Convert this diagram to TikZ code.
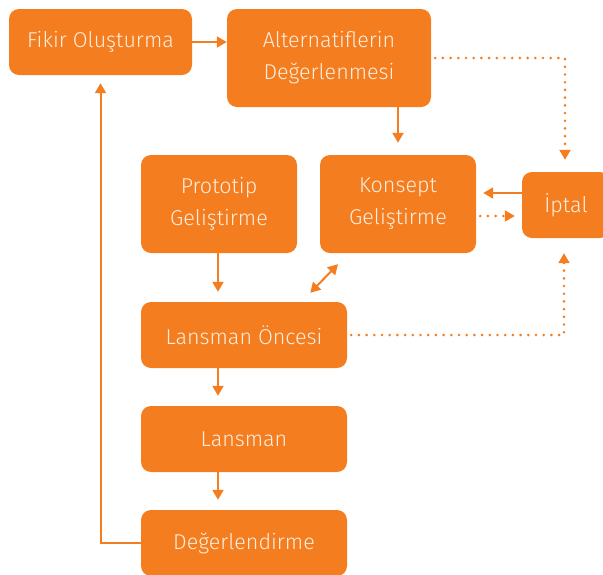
\documentclass[tikz,border=0pt]{standalone}
\usepackage{fontspec}
\setmainfont{Fira Sans Light}
\usepackage{xcolor}
\definecolor{BoxOrange}{HTML}{F47D20}
\definecolor{BoxText}{HTML}{FDEEDF}
\usepackage{tikz}
\usetikzlibrary{arrows.meta,calc}

\begin{document}
\begin{tikzpicture}[x=1pt,y=-1pt,
    every node/.style={fill=BoxOrange,text=BoxText,rounded corners=10pt,align=center,inner sep=0pt,
      font=\fontsize{21.5}{32}\selectfont},
    >={Triangle[length=10pt,width=11pt]},
    link/.style={draw=BoxOrange,line width=2pt,->},
    dots/.style={draw=BoxOrange,line width=2.9pt,line cap=round,dash pattern=on 0pt off 7.7pt}]
    \useasboundingbox (0,0) rectangle (603,574);
    \node[minimum width=183pt,minimum height=66pt] (fikir) at (100.5,42) {Fikir Oluşturma};
    \node[minimum width=204pt,minimum height=98pt] (alt) at (329,58) {Alternatiflerin\\Değerlenmesi};
    \node[minimum width=156pt,minimum height=98pt] (proto) at (219,204) {Prototip\\Geliştirme};
    \node[minimum width=156pt,minimum height=98pt] (konsept) at (398,204) {Konsept\\Geliştirme};
    \node[minimum width=88pt,minimum height=66pt] (iptal) at (566,205) {İptal};
    \node[minimum width=206pt,minimum height=66pt] (once) at (244,335) {Lansman Öncesi};
    \node[minimum width=206pt,minimum height=66pt] (lansman) at (244,439) {Lansman};
    \node[minimum width=206pt,minimum height=66pt] (deger) at (244,543) {Değerlendirme};
    % solid links
    \draw[link] (fikir.east) -- (alt.west |- fikir.east);
    \draw[link] (alt.south -| konsept.north) -- ([yshift=12pt]konsept.north);
    \draw[link] (iptal.west |- 0,193) -- ([xshift=7pt]konsept.east |- 0,193);
    \draw[link] (proto.south -| 218,0) -- ([yshift=10pt]once.north -| 218,0);
    \draw[link] (once.south -| 218,0) -- ([yshift=10pt]lansman.north -| 218,0);
    \draw[link] (lansman.south -| 218,0) -- ([yshift=10pt]deger.north -| 218,0);
    \draw[link,<->] ([shift={(-60pt,-11pt)}]konsept.south) -- ([shift={(-37pt,9pt)}]once.north east);
    \draw[link] (deger.west) -| ([yshift=-8pt]fikir.south);
    % dotted links to iptal
    \draw[dots] ([xshift=4pt]alt.east |- 0,58) -| (565,153);
    \draw[->,draw=BoxOrange,line width=2pt] (565,151) -- ([yshift=12pt]iptal.north -| 565,0);
    \draw[dots] ([xshift=4pt]konsept.east |- 0,216) -- (506,216);
    \draw[->,draw=BoxOrange,line width=2pt] (505,216) -- ([xshift=-7pt]iptal.west |- 0,216);
    \draw[dots] ([xshift=4pt]once.east) -| (564,262);
    \draw[->,draw=BoxOrange,line width=2pt] (564,264) -- ([yshift=-15pt]iptal.south -| 564,0);
  \end{tikzpicture}
\end{document}
